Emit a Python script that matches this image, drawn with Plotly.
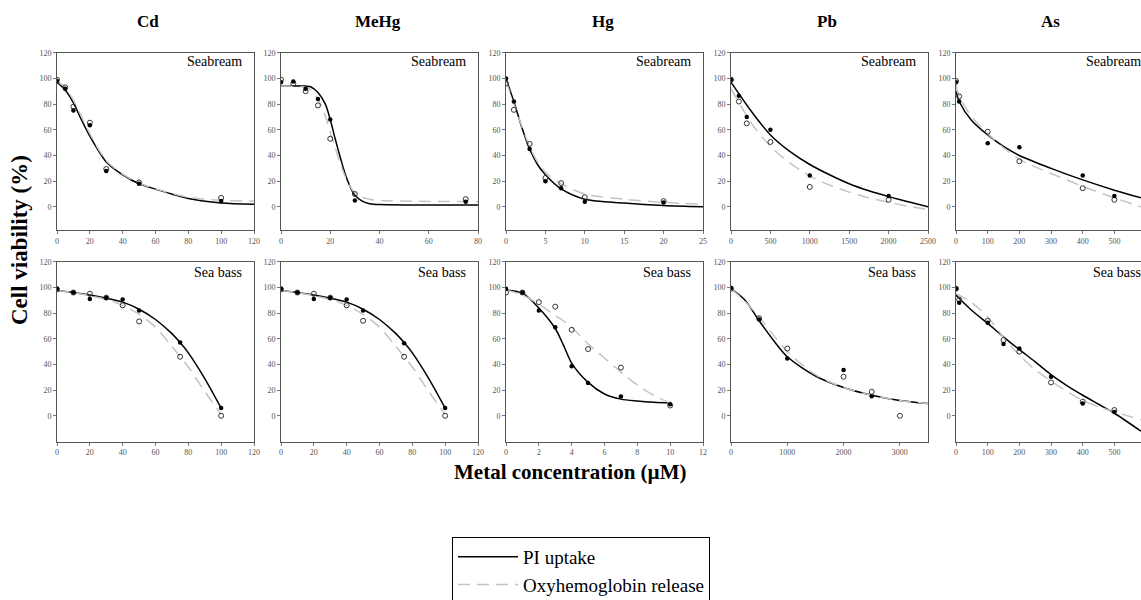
import plotly.graph_objects as go
from plotly.subplots import make_subplots

W, H = 1141, 600
metals = ["Cd", "MeHg", "Hg", "Pb", "As"]
species = ["Seabream", "Sea bass"]

# ---------------- Seabream (top row) ----------------
cd_sbr_x = [0, 5, 10, 20, 30, 50, 100]
cd_sbr_pi = [98, 92, 75, 63.5, 28, 18, 4.5]
cd_sbr_oxy = [99, 93, 78, 65.5, 29.5, 19, 7]
cd_sbr_cx = [0, 5, 10, 15, 20, 30, 40, 50, 60, 80, 100, 120]
cd_sbr_pi_fit = [97, 91, 81, 67.5, 55, 35, 25, 18, 13.8, 6.5, 3, 2]
cd_sbr_oxy_fit = [98, 93, 83, 70, 57, 36, 25.5, 18.5, 14, 7.5, 5, 4.5]

mehg_sbr_x = [0, 5, 10, 15, 20, 30, 75]
mehg_sbr_pi = [97, 97.5, 92, 84, 68, 5, 4]
mehg_sbr_oxy = [99, 96, 90, 79, 53, 10, 6]
mehg_sbr_cx = [0, 10, 12, 15, 18, 20, 22, 24, 26, 28, 30, 33, 36, 40, 80]
mehg_sbr_pi_fit = [94, 94, 93.5, 89, 80, 68, 53, 39, 26, 16, 9, 4.5, 2.5, 1.8, 1.5]
mehg_sbr_oxy_fit = [94, 93, 91, 84, 71, 58, 46, 34, 24, 16, 11, 7.5, 6, 5, 4]

hg_sbr_x = [0, 1, 3, 5, 7, 10, 20]
hg_sbr_pi = [100, 82, 45, 20, 14.5, 4, 3.5]
hg_sbr_oxy = [96, 75.5, 49, 22.5, 18.5, 7.5, 4.5]
hg_sbr_cx = [0, 1, 2, 3, 4, 5, 7, 10, 15, 20, 25]
hg_sbr_pi_fit = [100, 82, 62, 45, 33, 25, 14, 6, 3, 1, 0]
hg_sbr_oxy_fit = [98, 80, 63, 47, 35, 27, 18, 10, 6, 3.5, 2]

pb_sbr_x = [0, 100, 200, 500, 1000, 2000]
pb_sbr_pi = [99, 86.5, 70, 60, 24.5, 8.5]
pb_sbr_oxy = [99, 82, 65, 50.5, 15.5, 5.5]
pb_sbr_cx = [0, 250, 500, 750, 1000, 1250, 1500, 1750, 2000, 2250, 2500]
pb_sbr_pi_fit = [97, 75, 56, 43, 33, 25, 18, 12.5, 8, 4, 0]
pb_sbr_oxy_fit = [92, 66, 47, 34, 24, 17, 11.5, 7, 3.5, 0.5, -2]

as_sbr_x = [0, 10, 100, 200, 400, 500]
as_sbr_pi = [97, 82, 49.5, 46.5, 24.5, 8.5]
as_sbr_oxy = [98, 86, 58.5, 35.5, 14.5, 5.5]
as_sbr_cx = [0, 10, 50, 100, 150, 200, 300, 400, 500, 584]
as_sbr_pi_fit = [90, 82, 67, 56, 47, 40, 30, 21, 13, 7]
as_sbr_oxy_fit = [95, 86, 70, 57, 46, 37, 26, 16, 7, 0]

# ---------------- Sea bass (bottom row) ----------------
cd_sbs_x = [0, 10, 20, 30, 40, 50, 75, 100]
cd_sbs_pi = [99, 96, 91, 92, 90.5, 82, 57, 6]
cd_sbs_oxy = [98.5, 96, 95, 92, 86, 73.5, 46, 0]
cd_sbs_cx = [0, 10, 20, 30, 40, 50, 60, 70, 75, 80, 90, 100]
cd_sbs_pi_fit = [97.5, 96, 94, 91.5, 88.5, 83, 75, 64, 57, 49, 29, 6]
cd_sbs_oxy_fit = [97.5, 96, 93.5, 90.5, 86, 79, 69, 54, 46, 38, 19, 1]

mehg_sbs_x = [0, 10, 20, 30, 40, 50, 75, 100]
mehg_sbs_pi = [99, 96, 91, 92, 90.5, 82, 56.5, 6]
mehg_sbs_oxy = [98.5, 96, 95, 92, 86, 74, 46, 0]
mehg_sbs_cx = [0, 10, 20, 30, 40, 50, 60, 70, 75, 80, 90, 100]
mehg_sbs_pi_fit = [97.5, 96, 94, 91.5, 88.5, 83, 75, 64, 57, 49, 29, 6]
mehg_sbs_oxy_fit = [97.5, 96, 93.5, 90.5, 86, 79, 69, 54, 46, 38, 19, 1]

hg_sbs_x = [0, 1, 2, 3, 4, 5, 7, 10]
hg_sbs_pi = [99, 96, 82, 69, 38.5, 25.5, 15, 9]
hg_sbs_oxy = [96, 96, 88.5, 85, 67, 52, 37.5, 8]
hg_sbs_cx = [0, 1, 2, 3, 3.5, 4, 5, 6, 7, 8, 9, 10]
hg_sbs_pi_fit = [98, 95.5, 84, 68, 55, 41, 26, 17, 13, 11.5, 10.5, 10]
hg_sbs_oxy_fit = [98, 94, 87, 78, 74, 69, 56, 45, 34, 24, 16, 10]

pb_sbs_x = [0, 500, 1000, 2000, 2500, 3000]
pb_sbs_pi = [99.5, 75, 44.6, 35.6, 15.3, None]
pb_sbs_oxy = [99, 76, 52.4, 30.4, 18.7, 0]
pb_sbs_cx = [0, 250, 500, 750, 1000, 1500, 2000, 2500, 3000, 3500]
pb_sbs_pi_fit = [99, 90, 74, 59, 46, 31, 22, 16, 12, 9.5]
pb_sbs_oxy_fit = [99, 89, 77, 63, 50, 32, 22, 16, 12, 9.5]

as_sbs_x = [0, 10, 100, 150, 200, 300, 400, 500]
as_sbs_pi = [99, 88, 72.5, 56, 52.5, 30.5, 9.5, 3]
as_sbs_oxy = [99, 90.5, 74, 59, 50, 26, 11, 4.5]
as_sbs_cx = [0, 10, 50, 100, 150, 200, 250, 300, 350, 400, 450, 500, 584]
as_sbs_pi_fit = [94, 91.5, 82, 72, 61.5, 51.5, 42, 32, 23.5, 16, 9, 2, -12]
as_sbs_oxy_fit = [95, 94, 88, 77, 61, 47, 36, 27, 19, 12, 7, 3, -3]

# axis settings (ranges / tick values)
x_ranges_top = [[0, 120], [0, 80], [0, 25], [0, 2500], [0, 584]]
x_ticks_top = [[0, 20, 40, 60, 80, 100, 120], [0, 20, 40, 60, 80], [0, 5, 10, 15, 20, 25],
               [0, 500, 1000, 1500, 2000, 2500], [0, 100, 200, 300, 400, 500]]
x_ranges_bot = [[0, 120], [0, 120], [0, 12], [0, 3500], [0, 584]]
x_ticks_bot = [[0, 20, 40, 60, 80, 100, 120], [0, 20, 40, 60, 80, 100, 120], [0, 2, 4, 6, 8, 10, 12],
               [0, 1000, 2000, 3000], [0, 100, 200, 300, 400, 500]]
y_ticks = [0, 20, 40, 60, 80, 100, 120]

panels = [
    [(cd_sbr_x, cd_sbr_pi, cd_sbr_oxy, cd_sbr_cx, cd_sbr_pi_fit, cd_sbr_oxy_fit),
     (mehg_sbr_x, mehg_sbr_pi, mehg_sbr_oxy, mehg_sbr_cx, mehg_sbr_pi_fit, mehg_sbr_oxy_fit),
     (hg_sbr_x, hg_sbr_pi, hg_sbr_oxy, hg_sbr_cx, hg_sbr_pi_fit, hg_sbr_oxy_fit),
     (pb_sbr_x, pb_sbr_pi, pb_sbr_oxy, pb_sbr_cx, pb_sbr_pi_fit, pb_sbr_oxy_fit),
     (as_sbr_x, as_sbr_pi, as_sbr_oxy, as_sbr_cx, as_sbr_pi_fit, as_sbr_oxy_fit)],
    [(cd_sbs_x, cd_sbs_pi, cd_sbs_oxy, cd_sbs_cx, cd_sbs_pi_fit, cd_sbs_oxy_fit),
     (mehg_sbs_x, mehg_sbs_pi, mehg_sbs_oxy, mehg_sbs_cx, mehg_sbs_pi_fit, mehg_sbs_oxy_fit),
     (hg_sbs_x, hg_sbs_pi, hg_sbs_oxy, hg_sbs_cx, hg_sbs_pi_fit, hg_sbs_oxy_fit),
     (pb_sbs_x, pb_sbs_pi, pb_sbs_oxy, pb_sbs_cx, pb_sbs_pi_fit, pb_sbs_oxy_fit),
     (as_sbs_x, as_sbs_pi, as_sbs_oxy, as_sbs_cx, as_sbs_pi_fit, as_sbs_oxy_fit)],
]

SERIF = "Liberation Serif"
DASH_COLOR = "#c4c4c4"

fig = make_subplots(rows=2, cols=5)

col_px = [(57, 254), (281, 478), (506, 703), (731, 928), (956, 1141)]
row_px = [(52.7, 230), (261.7, 441.5)]

for r in range(2):
    for c in range(5):
        x, pi, oxy, cx, pfit, ofit = panels[r][c]
        first = (r == 0 and c == 0)
        fig.add_trace(go.Scatter(x=cx, y=pfit, mode="lines", name="PI uptake",
                                 line=dict(color="black", width=1.5, shape="spline", smoothing=0.8),
                                 showlegend=first, legendgroup="pi", hoverinfo="skip"),
                      row=r + 1, col=c + 1)
        fig.add_trace(go.Scatter(x=cx, y=ofit, mode="lines", name="Oxyhemoglobin release",
                                 line=dict(color=DASH_COLOR, width=1.5, dash="12px,7px",
                                           shape="spline", smoothing=0.8),
                                 showlegend=first, legendgroup="oxy", hoverinfo="skip"),
                      row=r + 1, col=c + 1)
        fig.add_trace(go.Scatter(x=x, y=oxy, mode="markers", showlegend=False,
                                 marker=dict(symbol="circle-open", size=5, color="#333",
                                             line=dict(width=1, color="#333"))),
                      row=r + 1, col=c + 1)
        fig.add_trace(go.Scatter(x=x, y=pi, mode="markers", showlegend=False,
                                 marker=dict(symbol="circle", size=4.5, color="black")),
                      row=r + 1, col=c + 1)

        x0, x1 = col_px[c]
        y0, y1 = row_px[r]
        xr = x_ranges_top[c] if r == 0 else x_ranges_bot[c]
        xt = x_ticks_top[c] if r == 0 else x_ticks_bot[c]
        yr = [-18, 120] if r == 0 else [-20, 120]
        last_col = (c == 4)
        fig.update_xaxes(domain=[x0 / W, x1 / W], range=xr, tickvals=xt,
                         showline=True, mirror=True, linecolor="#555", linewidth=1,
                         ticks="outside", ticklen=3, tickcolor="#777",
                         tickfont=dict(family=SERIF, size=8, color="#555"),
                         showgrid=False, zeroline=False, row=r + 1, col=c + 1)
        fig.update_yaxes(domain=[1 - y1 / H, 1 - y0 / H], range=yr, tickvals=y_ticks,
                         showline=True, mirror=(not last_col), linecolor="#555", linewidth=1,
                         ticks="outside", ticklen=3, tickcolor="#777",
                         tickfont=dict(family=SERIF, size=8, color="#555"),
                         showgrid=False, zeroline=False, row=r + 1, col=c + 1)

annotations = []
# column headers
header_px = [148, 378, 603, 827, 1050]
for m, hx in zip(metals, header_px):
    annotations.append(dict(text="<b>" + m + "</b>", x=hx / W, y=1 - 22 / H, xref="paper", yref="paper",
                            xanchor="center", yanchor="middle", showarrow=False,
                            font=dict(family=SERIF, size=17, color="black")))
# species labels inside panels
for r, sp in enumerate(species):
    ly = 62 if r == 0 else 272
    for c in range(5):
        rx = col_px[c][1] - 10 if c < 4 else 1143
        annotations.append(dict(text=sp, x=rx / W, y=1 - ly / H, xref="paper", yref="paper",
                                xanchor="right", yanchor="middle", showarrow=False,
                                font=dict(family=SERIF, size=14, color="black")))
annotations.append(dict(text="<b>Cell viability (%)</b>", x=19 / W, y=1 - 240 / H, xref="paper", yref="paper",
                        xanchor="center", yanchor="middle",
                        textangle=-90, showarrow=False, font=dict(family=SERIF, size=23, color="black")))
annotations.append(dict(text="<b>Metal concentration (µM)</b>", x=570 / W, y=1 - 472 / H,
                        xref="paper", yref="paper", xanchor="center", yanchor="middle", showarrow=False,
                        font=dict(family=SERIF, size=21, color="black")))

fig.update_layout(
    width=W, height=H, autosize=False,
    margin=dict(l=0, r=0, t=0, b=0, autoexpand=False),
    font=dict(family=SERIF, color="black"),
    plot_bgcolor="white", paper_bgcolor="white",
    annotations=annotations,
    legend=dict(x=452 / W, y=1 - 537 / H, xanchor="left", yanchor="top",
                bordercolor="black", borderwidth=1, bgcolor="white",
                font=dict(family=SERIF, size=19, color="black"),
                tracegroupgap=0, itemwidth=60),
)

fig.write_html("out.html", config={"displayModeBar": False},
               post_script="document.body.style.margin='0';")
